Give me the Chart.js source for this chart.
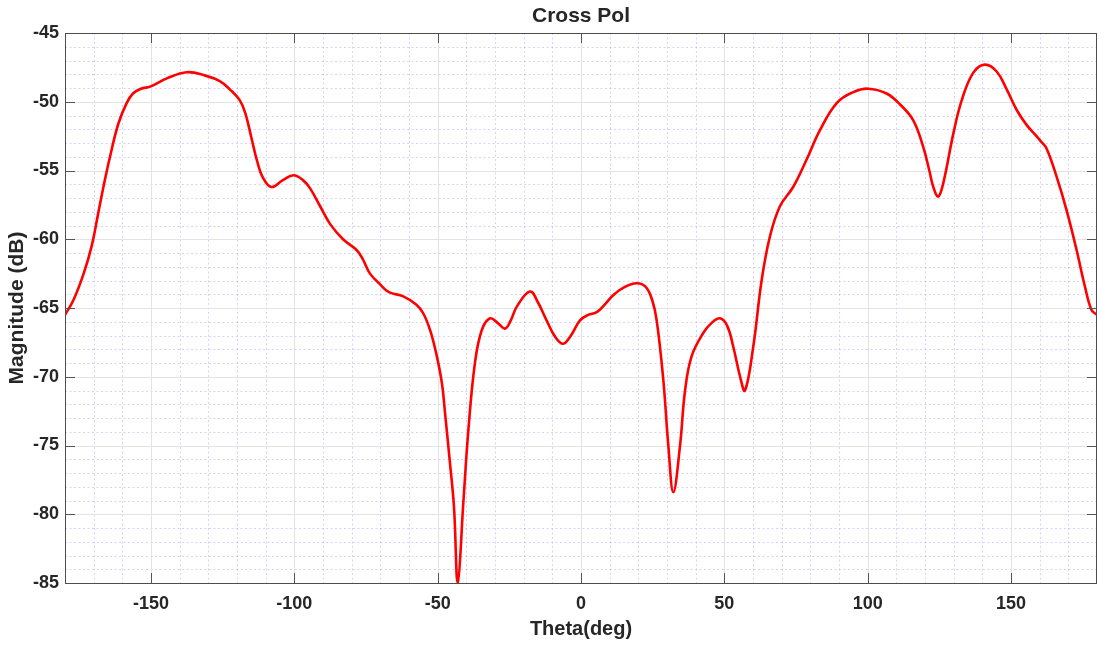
<!DOCTYPE html>
<html>
<head>
<meta charset="utf-8">
<title>Cross Pol</title>
<script src="https://cdn.jsdelivr.net/npm/chart.js@4.4.1/dist/chart.umd.min.js"></script>
<style>
  html, body { margin: 0; padding: 0; background: #ffffff; }
  canvas { display: block; }
</style>
</head>
<body>
<canvas id="chart" width="1099" height="646"></canvas>
<script>
// Cross-polarisation pattern: angle (deg) and magnitude (dB)
const thetaDeg = [
  -180, -177, -173.5, -170.7, -168.4, -166.6, -164.3, -161.4, -158.5, -156.3,
  -153.5, -150.3, -144.5, -137.5, -131, -126, -122.5, -119, -117, -115,
  -113, -111, -108, -104, -100.3, -97, -94.5, -91, -87.5, -83,
  -78.2, -76, -73.6, -70, -67, -62, -57.5, -55, -52.5, -50.3,
  -48.5, -47.4, -45.7, -44.3, -43, -41, -39.3, -37, -34.6, -31.7,
  -29, -26.5, -24.5, -22.4, -17.8, -15, -12, -9, -6.2, -3.5,
  -0.35, 2.5, 5.5, 8.5, 11.3, 15, 19.4, 22.5, 24.8, 26.4,
  28.7, 30.5, 32.2, 34.5, 36.3, 38.6, 42.7, 45.5, 48.5, 51,
  53.1, 55.5, 57.2, 60.1, 63, 65.9, 69.4, 74, 78.7, 83.4,
  89.2, 95, 100.2, 106.6, 111.3, 115.9, 119.4, 121.5, 122.9, 124.6,
  126.4, 129.9, 132.8, 136.8, 140.9, 145, 148.5, 152, 155.5, 158.9,
  160.5, 162.4, 165.9, 169.4, 172.9, 175.8, 178.1, 180
];
const crossPolDb = [
  -65.5, -64.4, -62.5, -60.5, -58.1, -56.2, -54.0, -51.6, -50.1, -49.4,
  -49.05, -48.9, -48.3, -47.85, -48.1, -48.5, -49.1, -49.9, -50.9, -52.6,
  -54.3, -55.5, -56.2, -55.7, -55.35, -55.7, -56.3, -57.6, -58.9, -60.0,
  -60.8, -61.5, -62.5, -63.3, -63.85, -64.15, -64.75, -65.4, -66.7, -68.5,
  -70.5, -72.7, -76.3, -79.5, -85.0, -79.0, -73.9, -69.0, -66.6, -65.75,
  -66.1, -66.5, -65.9, -64.9, -63.8, -64.6, -65.9, -67.1, -67.6, -67.0,
  -65.9, -65.5, -65.3, -64.7, -64.05, -63.5, -63.2, -63.45, -64.4, -65.9,
  -70.2, -75.1, -78.4, -75.1, -71.0, -68.5, -66.8, -66.1, -65.75, -66.3,
  -67.8, -70.0, -71.0, -67.8, -63.0, -59.8, -57.6, -56.2, -54.2, -52.05,
  -50.1, -49.3, -49.05, -49.4, -50.2, -51.35, -53.3, -55.0, -56.2, -56.9,
  -55.9, -52.3, -49.9, -47.9, -47.3, -47.8, -49.1, -50.6, -51.7, -52.5,
  -52.9, -53.4, -55.45, -57.9, -60.8, -63.45, -65.15, -65.5
];

// Axis limits and tick spacing
const thetaRange = [-180, 180];
const dbRange = [-85, -45];
const thetaMajorStep = 50, thetaMinorStep = 10;
const dbMajorStep = 5, dbMinorStep = 1;

const textColor = '#262626';
const fontFamily = '"Liberation Sans", Arial, Helvetica, sans-serif';

// Draws the minor/major grid, the framing box and inward tick marks
const axesDecor = {
  id: 'axesDecor',
  beforeDatasetsDraw(chart) {
    const { ctx, chartArea: a, scales: { x, y } } = chart;
    ctx.save();
    ctx.lineWidth = 1;
    // minor grid (dotted)
    ctx.strokeStyle = 'rgba(170,170,245,0.5)';
    ctx.setLineDash([2, 2.5]);
    ctx.beginPath();
    for (let v = thetaRange[0] + thetaMinorStep; v < thetaRange[1]; v += thetaMinorStep) {
      if (v % thetaMajorStep === 0) continue;
      const px = Math.round(x.getPixelForValue(v)) + 0.5;
      ctx.moveTo(px, a.top); ctx.lineTo(px, a.bottom);
    }
    for (let v = dbRange[0] + dbMinorStep; v < dbRange[1]; v += dbMinorStep) {
      if (v % dbMajorStep === 0) continue;
      const py = Math.round(y.getPixelForValue(v)) + 0.5;
      ctx.moveTo(a.left, py); ctx.lineTo(a.right, py);
    }
    ctx.stroke();
    // major grid (solid)
    ctx.setLineDash([]);
    ctx.strokeStyle = '#e3e3e3';
    ctx.beginPath();
    for (let v = -150; v <= 150; v += thetaMajorStep) {
      const px = Math.round(x.getPixelForValue(v)) + 0.5;
      ctx.moveTo(px, a.top); ctx.lineTo(px, a.bottom);
    }
    for (let v = dbRange[0] + dbMajorStep; v < dbRange[1]; v += dbMajorStep) {
      const py = Math.round(y.getPixelForValue(v)) + 0.5;
      ctx.moveTo(a.left, py); ctx.lineTo(a.right, py);
    }
    ctx.stroke();
    ctx.restore();
  },
  afterDatasetsDraw(chart) {
    const { ctx, chartArea: a, scales: { x, y } } = chart;
    const tickLen = 10;
    ctx.save();
    ctx.lineWidth = 1;
    ctx.strokeStyle = '#555555';
    ctx.beginPath();
    for (let v = -150; v <= 150; v += thetaMajorStep) {
      const px = Math.round(x.getPixelForValue(v)) + 0.5;
      ctx.moveTo(px, a.bottom); ctx.lineTo(px, a.bottom - tickLen);
      ctx.moveTo(px, a.top); ctx.lineTo(px, a.top + tickLen);
    }
    for (let v = dbRange[0] + dbMajorStep; v < dbRange[1]; v += dbMajorStep) {
      const py = Math.round(y.getPixelForValue(v)) + 0.5;
      ctx.moveTo(a.left, py); ctx.lineTo(a.left + tickLen, py);
      ctx.moveTo(a.right, py); ctx.lineTo(a.right - tickLen, py);
    }
    ctx.stroke();
    ctx.strokeStyle = '#4d4d4d';
    ctx.strokeRect(Math.round(a.left) + 0.5, Math.round(a.top) + 0.5,
                   Math.round(a.right - a.left) - 1, Math.round(a.bottom - a.top));
    ctx.restore();
  }
};

new Chart(document.getElementById('chart'), {
  type: 'line',
  data: {
    datasets: [{
      label: 'Cross Pol',
      data: thetaDeg.map((t, i) => ({ x: t, y: crossPolDb[i] })),
      borderColor: '#ff0000',
      borderWidth: 2.6,
      pointRadius: 0,
      fill: false,
      tension: 0.4
    }]
  },
  options: {
    responsive: false,
    animation: false,
    layout: { padding: { left: 0, right: 2, top: 0, bottom: 0 } },
    plugins: {
      legend: { display: false },
      tooltip: { enabled: false },
      title: {
        display: true,
        text: 'Cross Pol',
        fullSize: false,
        color: textColor,
        font: { family: fontFamily, size: 21, weight: 'bold', lineHeight: 1.2 },
        padding: { top: 3.5, bottom: 4.3 }
      }
    },
    scales: {
      x: {
        type: 'linear',
        min: thetaRange[0],
        max: thetaRange[1],
        afterBuildTicks(scale) {
          const ticks = [];
          for (let v = -150; v <= 150; v += thetaMajorStep) ticks.push({ value: v });
          scale.ticks = ticks;
        },
        afterFit(scale) { scale.height = 63; },
        grid: { display: false, drawTicks: false },
        border: { display: false },
        ticks: {
          color: textColor,
          padding: 10,
          maxRotation: 0,
          font: { family: fontFamily, size: 18, weight: 'bold' }
        },
        title: {
          display: true,
          text: 'Theta(deg)',
          color: textColor,
          font: { family: fontFamily, size: 20, weight: 'bold', lineHeight: 1.2 },
          padding: { top: 0, bottom: 5 }
        }
      },
      y: {
        type: 'linear',
        min: dbRange[0],
        max: dbRange[1],
        afterBuildTicks(scale) {
          const ticks = [];
          for (let v = dbRange[0]; v <= dbRange[1]; v += dbMajorStep) ticks.push({ value: v });
          scale.ticks = ticks;
        },
        afterFit(scale) { scale.width = 65; },
        grid: { display: false, drawTicks: false },
        border: { display: false },
        ticks: {
          color: textColor,
          padding: 6,
          font: { family: fontFamily, size: 18, weight: 'bold' }
        },
        title: {
          display: true,
          text: 'Magnitude (dB)',
          color: textColor,
          font: { family: fontFamily, size: 21, weight: 'bold', lineHeight: 1.2 },
          padding: { top: 5, bottom: 0 }
        }
      }
    }
  },
  plugins: [axesDecor]
});
</script>
</body>
</html>
